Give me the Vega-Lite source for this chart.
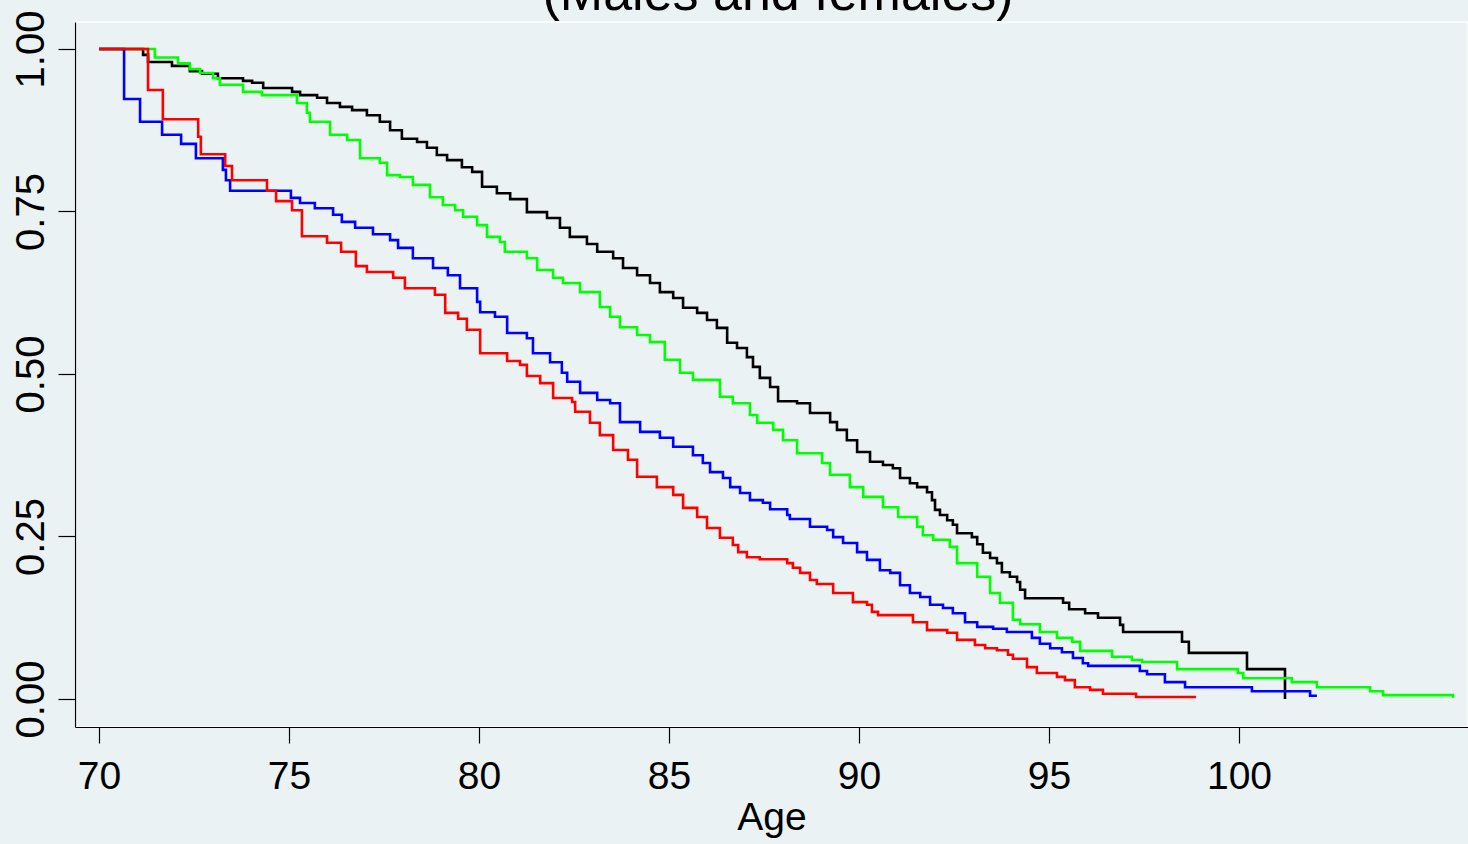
{
"$schema": "https://vega.github.io/schema/vega-lite/v6.json",
"width": 1393, "height": 705,
"autosize": {"type": "none"},
"padding": {"left": 75, "top": 22, "right": 0, "bottom": 117},
"background": "#eaf2f3",
"config": {"view": {"stroke": "#ffffff", "strokeWidth": 1.5, "fill": "#eaf2f3"}, "font": "Liberation Sans"},
"datasets": {
"curves": [
{"group":"Group 1","age":70.00,"survival":1.000},{"group":"Group 1","age":71.16,"survival":0.991},{"group":"Group 1","age":71.29,"survival":0.980},{"group":"Group 1","age":71.92,"survival":0.974},{"group":"Group 1","age":72.39,"survival":0.966},{"group":"Group 1","age":72.71,"survival":0.962},{"group":"Group 1","age":73.13,"survival":0.955},{"group":"Group 1","age":73.79,"survival":0.951},{"group":"Group 1","age":74.03,"survival":0.948},{"group":"Group 1","age":74.32,"survival":0.940},{"group":"Group 1","age":75.08,"survival":0.934},{"group":"Group 1","age":75.29,"survival":0.929},{"group":"Group 1","age":75.74,"survival":0.925},{"group":"Group 1","age":76.00,"survival":0.917},{"group":"Group 1","age":76.34,"survival":0.911},{"group":"Group 1","age":76.66,"survival":0.906},{"group":"Group 1","age":77.05,"survival":0.898},{"group":"Group 1","age":77.39,"survival":0.888},{"group":"Group 1","age":77.66,"survival":0.875},{"group":"Group 1","age":77.97,"survival":0.862},{"group":"Group 1","age":78.37,"survival":0.857},{"group":"Group 1","age":78.63,"survival":0.848},{"group":"Group 1","age":78.89,"survival":0.837},{"group":"Group 1","age":79.16,"survival":0.829},{"group":"Group 1","age":79.55,"survival":0.818},{"group":"Group 1","age":79.82,"survival":0.811},{"group":"Group 1","age":80.08,"survival":0.788},{"group":"Group 1","age":80.47,"survival":0.778},{"group":"Group 1","age":80.82,"survival":0.769},{"group":"Group 1","age":81.26,"survival":0.749},{"group":"Group 1","age":81.79,"survival":0.740},{"group":"Group 1","age":82.13,"survival":0.725},{"group":"Group 1","age":82.39,"survival":0.711},{"group":"Group 1","age":82.84,"survival":0.700},{"group":"Group 1","age":83.11,"survival":0.688},{"group":"Group 1","age":83.53,"survival":0.678},{"group":"Group 1","age":83.79,"survival":0.663},{"group":"Group 1","age":84.16,"survival":0.652},{"group":"Group 1","age":84.50,"survival":0.640},{"group":"Group 1","age":84.76,"survival":0.626},{"group":"Group 1","age":85.11,"survival":0.617},{"group":"Group 1","age":85.37,"survival":0.602},{"group":"Group 1","age":85.74,"survival":0.594},{"group":"Group 1","age":86.00,"survival":0.583},{"group":"Group 1","age":86.26,"survival":0.571},{"group":"Group 1","age":86.53,"survival":0.548},{"group":"Group 1","age":86.79,"survival":0.540},{"group":"Group 1","age":87.05,"survival":0.526},{"group":"Group 1","age":87.21,"survival":0.511},{"group":"Group 1","age":87.39,"survival":0.494},{"group":"Group 1","age":87.66,"survival":0.480},{"group":"Group 1","age":87.87,"survival":0.458},{"group":"Group 1","age":88.37,"survival":0.455},{"group":"Group 1","age":88.71,"survival":0.440},{"group":"Group 1","age":89.24,"survival":0.426},{"group":"Group 1","age":89.42,"survival":0.414},{"group":"Group 1","age":89.68,"survival":0.398},{"group":"Group 1","age":89.95,"survival":0.380},{"group":"Group 1","age":90.29,"survival":0.365},{"group":"Group 1","age":90.63,"survival":0.360},{"group":"Group 1","age":90.89,"survival":0.355},{"group":"Group 1","age":91.08,"survival":0.340},{"group":"Group 1","age":91.34,"survival":0.332},{"group":"Group 1","age":91.53,"survival":0.326},{"group":"Group 1","age":91.79,"survival":0.318},{"group":"Group 1","age":91.92,"survival":0.306},{"group":"Group 1","age":92.00,"survival":0.291},{"group":"Group 1","age":92.13,"survival":0.283},{"group":"Group 1","age":92.32,"survival":0.275},{"group":"Group 1","age":92.47,"survival":0.268},{"group":"Group 1","age":92.58,"survival":0.255},{"group":"Group 1","age":92.97,"survival":0.249},{"group":"Group 1","age":93.11,"survival":0.238},{"group":"Group 1","age":93.26,"survival":0.225},{"group":"Group 1","age":93.45,"survival":0.217},{"group":"Group 1","age":93.63,"survival":0.209},{"group":"Group 1","age":93.76,"survival":0.195},{"group":"Group 1","age":93.97,"survival":0.188},{"group":"Group 1","age":94.16,"survival":0.180},{"group":"Group 1","age":94.24,"survival":0.168},{"group":"Group 1","age":94.37,"survival":0.155},{"group":"Group 1","age":95.37,"survival":0.148},{"group":"Group 1","age":95.53,"survival":0.138},{"group":"Group 1","age":95.95,"survival":0.132},{"group":"Group 1","age":96.29,"survival":0.125},{"group":"Group 1","age":96.87,"survival":0.114},{"group":"Group 1","age":96.95,"survival":0.103},{"group":"Group 1","age":98.50,"survival":0.088},{"group":"Group 1","age":98.68,"survival":0.071},{"group":"Group 1","age":100.21,"survival":0.046},{"group":"Group 1","age":101.21,"survival":0.000},
{"group":"Group 2","age":70.00,"survival":1.000},{"group":"Group 2","age":71.47,"survival":0.987},{"group":"Group 2","age":72.08,"survival":0.978},{"group":"Group 2","age":72.39,"survival":0.969},{"group":"Group 2","age":72.66,"survival":0.963},{"group":"Group 2","age":73.00,"survival":0.955},{"group":"Group 2","age":73.18,"survival":0.945},{"group":"Group 2","age":73.79,"survival":0.934},{"group":"Group 2","age":74.29,"survival":0.929},{"group":"Group 2","age":75.21,"survival":0.917},{"group":"Group 2","age":75.47,"survival":0.902},{"group":"Group 2","age":75.55,"survival":0.888},{"group":"Group 2","age":76.08,"survival":0.868},{"group":"Group 2","age":76.53,"survival":0.860},{"group":"Group 2","age":76.87,"survival":0.832},{"group":"Group 2","age":77.39,"survival":0.825},{"group":"Group 2","age":77.58,"survival":0.806},{"group":"Group 2","age":77.92,"survival":0.803},{"group":"Group 2","age":78.26,"survival":0.791},{"group":"Group 2","age":78.71,"survival":0.772},{"group":"Group 2","age":79.05,"survival":0.760},{"group":"Group 2","age":79.37,"survival":0.752},{"group":"Group 2","age":79.58,"survival":0.742},{"group":"Group 2","age":79.95,"survival":0.729},{"group":"Group 2","age":80.21,"survival":0.711},{"group":"Group 2","age":80.55,"survival":0.703},{"group":"Group 2","age":80.68,"survival":0.688},{"group":"Group 2","age":81.26,"survival":0.678},{"group":"Group 2","age":81.53,"survival":0.660},{"group":"Group 2","age":81.95,"survival":0.648},{"group":"Group 2","age":82.21,"survival":0.640},{"group":"Group 2","age":82.66,"survival":0.626},{"group":"Group 2","age":83.18,"survival":0.603},{"group":"Group 2","age":83.45,"survival":0.588},{"group":"Group 2","age":83.71,"survival":0.572},{"group":"Group 2","age":84.16,"survival":0.560},{"group":"Group 2","age":84.50,"survival":0.549},{"group":"Group 2","age":84.89,"survival":0.522},{"group":"Group 2","age":85.29,"survival":0.502},{"group":"Group 2","age":85.63,"survival":0.491},{"group":"Group 2","age":86.34,"survival":0.465},{"group":"Group 2","age":86.68,"survival":0.455},{"group":"Group 2","age":87.13,"survival":0.437},{"group":"Group 2","age":87.32,"survival":0.425},{"group":"Group 2","age":87.74,"survival":0.414},{"group":"Group 2","age":88.00,"survival":0.398},{"group":"Group 2","age":88.37,"survival":0.378},{"group":"Group 2","age":89.03,"survival":0.363},{"group":"Group 2","age":89.24,"survival":0.345},{"group":"Group 2","age":89.76,"survival":0.326},{"group":"Group 2","age":90.11,"survival":0.311},{"group":"Group 2","age":90.63,"survival":0.295},{"group":"Group 2","age":91.03,"survival":0.280},{"group":"Group 2","age":91.53,"survival":0.265},{"group":"Group 2","age":91.68,"survival":0.252},{"group":"Group 2","age":91.95,"survival":0.245},{"group":"Group 2","age":92.39,"survival":0.234},{"group":"Group 2","age":92.58,"survival":0.209},{"group":"Group 2","age":93.11,"survival":0.188},{"group":"Group 2","age":93.45,"survival":0.163},{"group":"Group 2","age":93.71,"survival":0.148},{"group":"Group 2","age":94.05,"survival":0.122},{"group":"Group 2","age":94.24,"survival":0.115},{"group":"Group 2","age":94.76,"survival":0.103},{"group":"Group 2","age":95.21,"survival":0.094},{"group":"Group 2","age":95.61,"survival":0.088},{"group":"Group 2","age":95.82,"survival":0.074},{"group":"Group 2","age":96.66,"survival":0.065},{"group":"Group 2","age":97.18,"survival":0.060},{"group":"Group 2","age":97.45,"survival":0.057},{"group":"Group 2","age":98.37,"survival":0.046},{"group":"Group 2","age":99.97,"survival":0.040},{"group":"Group 2","age":100.11,"survival":0.032},{"group":"Group 2","age":101.39,"survival":0.026},{"group":"Group 2","age":102.05,"survival":0.018},{"group":"Group 2","age":103.45,"survival":0.012},{"group":"Group 2","age":103.79,"survival":0.006},{"group":"Group 2","age":105.63,"survival":0.002},
{"group":"Group 3","age":70.00,"survival":1.000},{"group":"Group 3","age":70.66,"survival":0.923},{"group":"Group 3","age":71.08,"survival":0.888},{"group":"Group 3","age":71.66,"survival":0.868},{"group":"Group 3","age":72.16,"survival":0.854},{"group":"Group 3","age":72.55,"survival":0.832},{"group":"Group 3","age":73.26,"survival":0.814},{"group":"Group 3","age":73.34,"survival":0.798},{"group":"Group 3","age":73.45,"survival":0.782},{"group":"Group 3","age":75.05,"survival":0.771},{"group":"Group 3","age":75.29,"survival":0.763},{"group":"Group 3","age":75.68,"survival":0.755},{"group":"Group 3","age":76.16,"survival":0.745},{"group":"Group 3","age":76.39,"survival":0.734},{"group":"Group 3","age":76.74,"survival":0.725},{"group":"Group 3","age":77.21,"survival":0.715},{"group":"Group 3","age":77.66,"survival":0.706},{"group":"Group 3","age":77.87,"survival":0.694},{"group":"Group 3","age":78.26,"survival":0.678},{"group":"Group 3","age":78.79,"survival":0.663},{"group":"Group 3","age":79.18,"survival":0.652},{"group":"Group 3","age":79.50,"survival":0.632},{"group":"Group 3","age":79.95,"survival":0.611},{"group":"Group 3","age":80.03,"survival":0.595},{"group":"Group 3","age":80.42,"survival":0.588},{"group":"Group 3","age":80.74,"survival":0.563},{"group":"Group 3","age":81.26,"survival":0.555},{"group":"Group 3","age":81.42,"survival":0.532},{"group":"Group 3","age":81.87,"survival":0.518},{"group":"Group 3","age":82.18,"survival":0.502},{"group":"Group 3","age":82.32,"survival":0.488},{"group":"Group 3","age":82.66,"survival":0.471},{"group":"Group 3","age":83.11,"survival":0.460},{"group":"Group 3","age":83.45,"survival":0.455},{"group":"Group 3","age":83.71,"survival":0.426},{"group":"Group 3","age":84.24,"survival":0.411},{"group":"Group 3","age":84.76,"survival":0.402},{"group":"Group 3","age":85.11,"survival":0.388},{"group":"Group 3","age":85.63,"survival":0.375},{"group":"Group 3","age":85.89,"survival":0.363},{"group":"Group 3","age":86.08,"survival":0.349},{"group":"Group 3","age":86.42,"survival":0.340},{"group":"Group 3","age":86.61,"survival":0.326},{"group":"Group 3","age":86.87,"survival":0.317},{"group":"Group 3","age":87.13,"survival":0.306},{"group":"Group 3","age":87.47,"survival":0.302},{"group":"Group 3","age":87.66,"survival":0.292},{"group":"Group 3","age":88.11,"survival":0.283},{"group":"Group 3","age":88.18,"survival":0.277},{"group":"Group 3","age":88.71,"survival":0.265},{"group":"Group 3","age":89.16,"survival":0.260},{"group":"Group 3","age":89.32,"survival":0.249},{"group":"Group 3","age":89.58,"survival":0.240},{"group":"Group 3","age":89.95,"survival":0.226},{"group":"Group 3","age":90.21,"survival":0.214},{"group":"Group 3","age":90.55,"survival":0.198},{"group":"Group 3","age":90.82,"survival":0.194},{"group":"Group 3","age":91.08,"survival":0.175},{"group":"Group 3","age":91.34,"survival":0.163},{"group":"Group 3","age":91.61,"survival":0.157},{"group":"Group 3","age":91.87,"survival":0.145},{"group":"Group 3","age":92.21,"survival":0.140},{"group":"Group 3","age":92.47,"survival":0.132},{"group":"Group 3","age":92.79,"survival":0.118},{"group":"Group 3","age":93.11,"survival":0.111},{"group":"Group 3","age":93.53,"survival":0.108},{"group":"Group 3","age":93.89,"survival":0.103},{"group":"Group 3","age":94.55,"survival":0.094},{"group":"Group 3","age":94.76,"survival":0.085},{"group":"Group 3","age":95.03,"survival":0.078},{"group":"Group 3","age":95.34,"survival":0.072},{"group":"Group 3","age":95.63,"survival":0.063},{"group":"Group 3","age":95.89,"survival":0.055},{"group":"Group 3","age":96.03,"survival":0.051},{"group":"Group 3","age":97.39,"survival":0.043},{"group":"Group 3","age":97.58,"survival":0.038},{"group":"Group 3","age":98.05,"survival":0.026},{"group":"Group 3","age":98.58,"survival":0.018},{"group":"Group 3","age":100.34,"survival":0.012},{"group":"Group 3","age":101.87,"survival":0.005},{"group":"Group 3","age":102.05,"survival":0.005},
{"group":"Group 4","age":70.00,"survival":1.000},{"group":"Group 4","age":71.29,"survival":0.937},{"group":"Group 4","age":71.68,"survival":0.892},{"group":"Group 4","age":72.61,"survival":0.865},{"group":"Group 4","age":72.68,"survival":0.838},{"group":"Group 4","age":73.32,"survival":0.820},{"group":"Group 4","age":73.50,"survival":0.798},{"group":"Group 4","age":74.42,"survival":0.782},{"group":"Group 4","age":74.66,"survival":0.766},{"group":"Group 4","age":75.08,"survival":0.752},{"group":"Group 4","age":75.34,"survival":0.712},{"group":"Group 4","age":76.00,"survival":0.702},{"group":"Group 4","age":76.37,"survival":0.688},{"group":"Group 4","age":76.76,"survival":0.666},{"group":"Group 4","age":77.05,"survival":0.657},{"group":"Group 4","age":77.74,"survival":0.648},{"group":"Group 4","age":78.05,"survival":0.632},{"group":"Group 4","age":78.84,"survival":0.622},{"group":"Group 4","age":79.11,"survival":0.594},{"group":"Group 4","age":79.45,"survival":0.585},{"group":"Group 4","age":79.68,"survival":0.568},{"group":"Group 4","age":80.03,"survival":0.532},{"group":"Group 4","age":80.74,"survival":0.520},{"group":"Group 4","age":81.08,"survival":0.514},{"group":"Group 4","age":81.26,"survival":0.497},{"group":"Group 4","age":81.61,"survival":0.486},{"group":"Group 4","age":81.95,"survival":0.463},{"group":"Group 4","age":82.45,"survival":0.457},{"group":"Group 4","age":82.53,"survival":0.442},{"group":"Group 4","age":82.92,"survival":0.425},{"group":"Group 4","age":83.18,"survival":0.406},{"group":"Group 4","age":83.53,"survival":0.383},{"group":"Group 4","age":83.92,"survival":0.368},{"group":"Group 4","age":84.16,"survival":0.342},{"group":"Group 4","age":84.68,"survival":0.326},{"group":"Group 4","age":85.11,"survival":0.314},{"group":"Group 4","age":85.37,"survival":0.294},{"group":"Group 4","age":85.74,"survival":0.280},{"group":"Group 4","age":86.00,"survival":0.263},{"group":"Group 4","age":86.34,"survival":0.248},{"group":"Group 4","age":86.68,"survival":0.237},{"group":"Group 4","age":86.82,"survival":0.226},{"group":"Group 4","age":87.05,"survival":0.218},{"group":"Group 4","age":87.39,"survival":0.215},{"group":"Group 4","age":88.11,"survival":0.209},{"group":"Group 4","age":88.26,"survival":0.202},{"group":"Group 4","age":88.45,"survival":0.194},{"group":"Group 4","age":88.71,"survival":0.183},{"group":"Group 4","age":88.89,"survival":0.177},{"group":"Group 4","age":89.32,"survival":0.163},{"group":"Group 4","age":89.84,"survival":0.149},{"group":"Group 4","age":90.21,"survival":0.145},{"group":"Group 4","age":90.34,"survival":0.134},{"group":"Group 4","age":90.50,"survival":0.129},{"group":"Group 4","age":91.42,"survival":0.118},{"group":"Group 4","age":91.79,"survival":0.106},{"group":"Group 4","age":92.32,"survival":0.102},{"group":"Group 4","age":92.58,"survival":0.091},{"group":"Group 4","age":93.05,"survival":0.083},{"group":"Group 4","age":93.32,"survival":0.078},{"group":"Group 4","age":93.63,"survival":0.075},{"group":"Group 4","age":93.92,"survival":0.068},{"group":"Group 4","age":94.05,"survival":0.062},{"group":"Group 4","age":94.42,"survival":0.049},{"group":"Group 4","age":94.68,"survival":0.040},{"group":"Group 4","age":95.21,"survival":0.034},{"group":"Group 4","age":95.42,"survival":0.029},{"group":"Group 4","age":95.68,"survival":0.018},{"group":"Group 4","age":96.08,"survival":0.014},{"group":"Group 4","age":96.42,"survival":0.008},{"group":"Group 4","age":97.29,"survival":0.003},{"group":"Group 4","age":98.87,"survival":0.003}
],
"heading": [{"label": "(Males and females)", "age": 87.87, "survival": 1.060}]
},
"encoding": {
  "x": {"field": "age", "type": "quantitative", "scale": {"domain": [69.368, 106.026], "nice": false, "zero": false},
        "axis": {"values": [70,75,80,85,90,95,100], "title": "Age", "grid": false, "domainColor": "black", "domainWidth": 1.2, "tickColor": "black", "tickWidth": 1.2, "tickSize": 16, "labelFontSize": 39, "labelFont": "Liberation Sans", "labelColor": "black", "labelPadding": 14, "labelFlush": false, "labelOverlap": false, "titleFontSize": 39, "titleFont": "Liberation Sans", "titleFontWeight": "normal", "titleColor": "black", "titlePadding": 2}},
  "y": {"field": "survival", "type": "quantitative", "scale": {"domain": [-0.0431, 1.0415], "nice": false, "zero": false},
        "axis": {"values": [0,0.25,0.5,0.75,1], "format": ".2f", "title": null, "grid": false, "domainColor": "black", "domainWidth": 1.2, "tickColor": "black", "tickWidth": 1.2, "tickSize": 17, "labelFontSize": 40, "labelFont": "Liberation Sans", "labelColor": "black", "labelAngle": -90, "labelAlign": "center", "labelBaseline": "alphabetic", "labelPadding": 15, "labelFlush": false, "labelOverlap": false}}
},
"layer": [
  {"data": {"name": "curves"}, "transform": [{"filter": "datum.group === 'Group 1'"}], "mark": {"type": "line", "interpolate": "step-after", "strokeWidth": 2.6},
   "encoding": {"color": {"field": "group", "type": "nominal", "scale": {"domain": ["Group 1","Group 2","Group 3","Group 4"], "range": ["#000000","#00ff00","#0000ff","#ff0000"]}, "legend": null}}},
  {"data": {"name": "curves"}, "transform": [{"filter": "datum.group === 'Group 2'"}], "mark": {"type": "line", "interpolate": "step-after", "strokeWidth": 2.6},
   "encoding": {"color": {"field": "group", "type": "nominal", "legend": null}}},
  {"data": {"name": "curves"}, "transform": [{"filter": "datum.group === 'Group 3'"}], "mark": {"type": "line", "interpolate": "step-after", "strokeWidth": 2.6},
   "encoding": {"color": {"field": "group", "type": "nominal", "legend": null}}},
  {"data": {"name": "curves"}, "transform": [{"filter": "datum.group === 'Group 4'"}], "mark": {"type": "line", "interpolate": "step-after", "strokeWidth": 2.6},
   "encoding": {"color": {"field": "group", "type": "nominal", "legend": null}}},
  {"data": {"name": "heading"}, "mark": {"type": "text", "fontSize": 52, "font": "Liberation Sans", "align": "center", "baseline": "alphabetic", "color": "black"},
   "encoding": {"text": {"field": "label", "type": "nominal"}}}
]
}
